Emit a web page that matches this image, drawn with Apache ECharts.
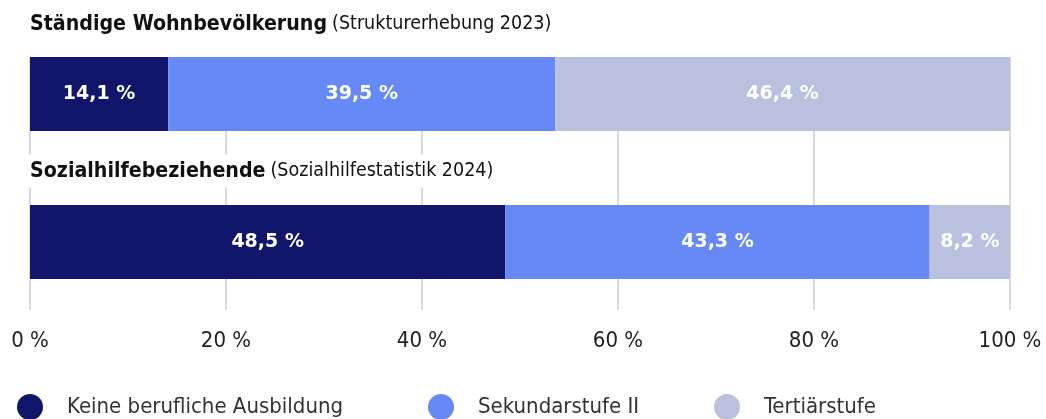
<!DOCTYPE html>
<html>
<head>
<meta charset="utf-8">
<script src="https://cdn.jsdelivr.net/npm/echarts@6/dist/echarts.min.js"></script>
<style>
  html, body { margin: 0; padding: 0; background: #fff; }
  #chart { width: 1046px; height: 419px; }
</style>
</head>
<body>
<div id="chart"></div>
<script>
const categories = ["Ständige Wohnbevölkerung", "Sozialhilfebeziehende"];
const sources = ["Strukturerhebung 2023", "Sozialhilfestatistik 2024"];
const levels = ["Keine berufliche Ausbildung", "Sekundarstufe II", "Tertiärstufe"];
const keineAusbildung = [14.1, 48.5];
const sekundarstufe = [39.5, 43.3];
const tertiaerstufe = [46.4, 8.2];

const colors = ["#11166b", "#6689f6", "#b9c1de"];
const narrow = "'Liberation Sans Narrow', 'DejaVu Sans Condensed', sans-serif";

const chart = echarts.init(document.getElementById("chart"), null, { renderer: "canvas" });

// titles above each bar, white box hides the grid lines behind the text
const titleTops = [5, 152];
const titles = categories.map((c, i) => ({
  text: "{b|" + c + "} {n|(" + sources[i] + ")}",
  left: 26,
  top: titleTops[i],
  padding: [6, 6, 6, 4],
  backgroundColor: "#fff",
  textStyle: {
    rich: {
      b: { fontFamily: narrow, fontWeight: "bold", fontSize: 21.2, lineHeight: 26, color: "#111" },
      n: { fontFamily: narrow, fontWeight: "normal", fontSize: 19.5, lineHeight: 26, color: "#111" },
    },
  },
}));

const legendLefts = [12, 423, 709];
const legends = levels.map((name, i) => ({
  data: [name],
  left: legendLefts[i],
  top: 389,
  icon: "circle",
  itemWidth: 26,
  itemHeight: 26,
  selectedMode: false,
  textStyle: {
    fontFamily: narrow,
    fontSize: 22,
    color: "#333",
    padding: [0, 0, 0, 19],
  },
}));

const fmt = (v) => v.toFixed(1).replace(".", ",") + " %";

const makeSeries = (name, data, color) => ({
  name: name,
  type: "bar",
  stack: "total",
  data: data,
  barWidth: 74,
  color: color,
  itemStyle: { color: color },
  label: {
    show: true,
    position: "inside",
    formatter: (p) => fmt(p.value),
    color: "#fff",
    fontFamily: "DejaVu Sans",
    fontWeight: "bold",
    fontSize: 19,
  },
  emphasis: { disabled: true },
});

const options = {
  animation: false,
  title: titles,
  legend: legends,
  grid: { left: 30, right: 36, top: 20, bottom: 103 },
  xAxis: {
    type: "value",
    min: 0,
    max: 100,
    interval: 20,
    position: "bottom",
    offset: -6,
    axisLine: { show: false },
    splitLine: { show: false },
    // ticks drawn upward serve as the vertical grid lines
    axisTick: {
      show: true,
      inside: true,
      length: 253,
      lineStyle: { color: "#d9d9d9", width: 2 },
    },
    axisLabel: {
      margin: 20,
      formatter: "{value} %",
      fontFamily: narrow,
      fontSize: 22,
      color: "#222",
    },
  },
  yAxis: {
    type: "category",
    inverse: true,
    show: false,
    data: categories,
  },
  series: [
    makeSeries(levels[0], keineAusbildung, colors[0]),
    makeSeries(levels[1], sekundarstufe, colors[1]),
    makeSeries(levels[2], tertiaerstufe, colors[2]),
  ],
};

chart.setOption(options);
</script>
</body>
</html>
